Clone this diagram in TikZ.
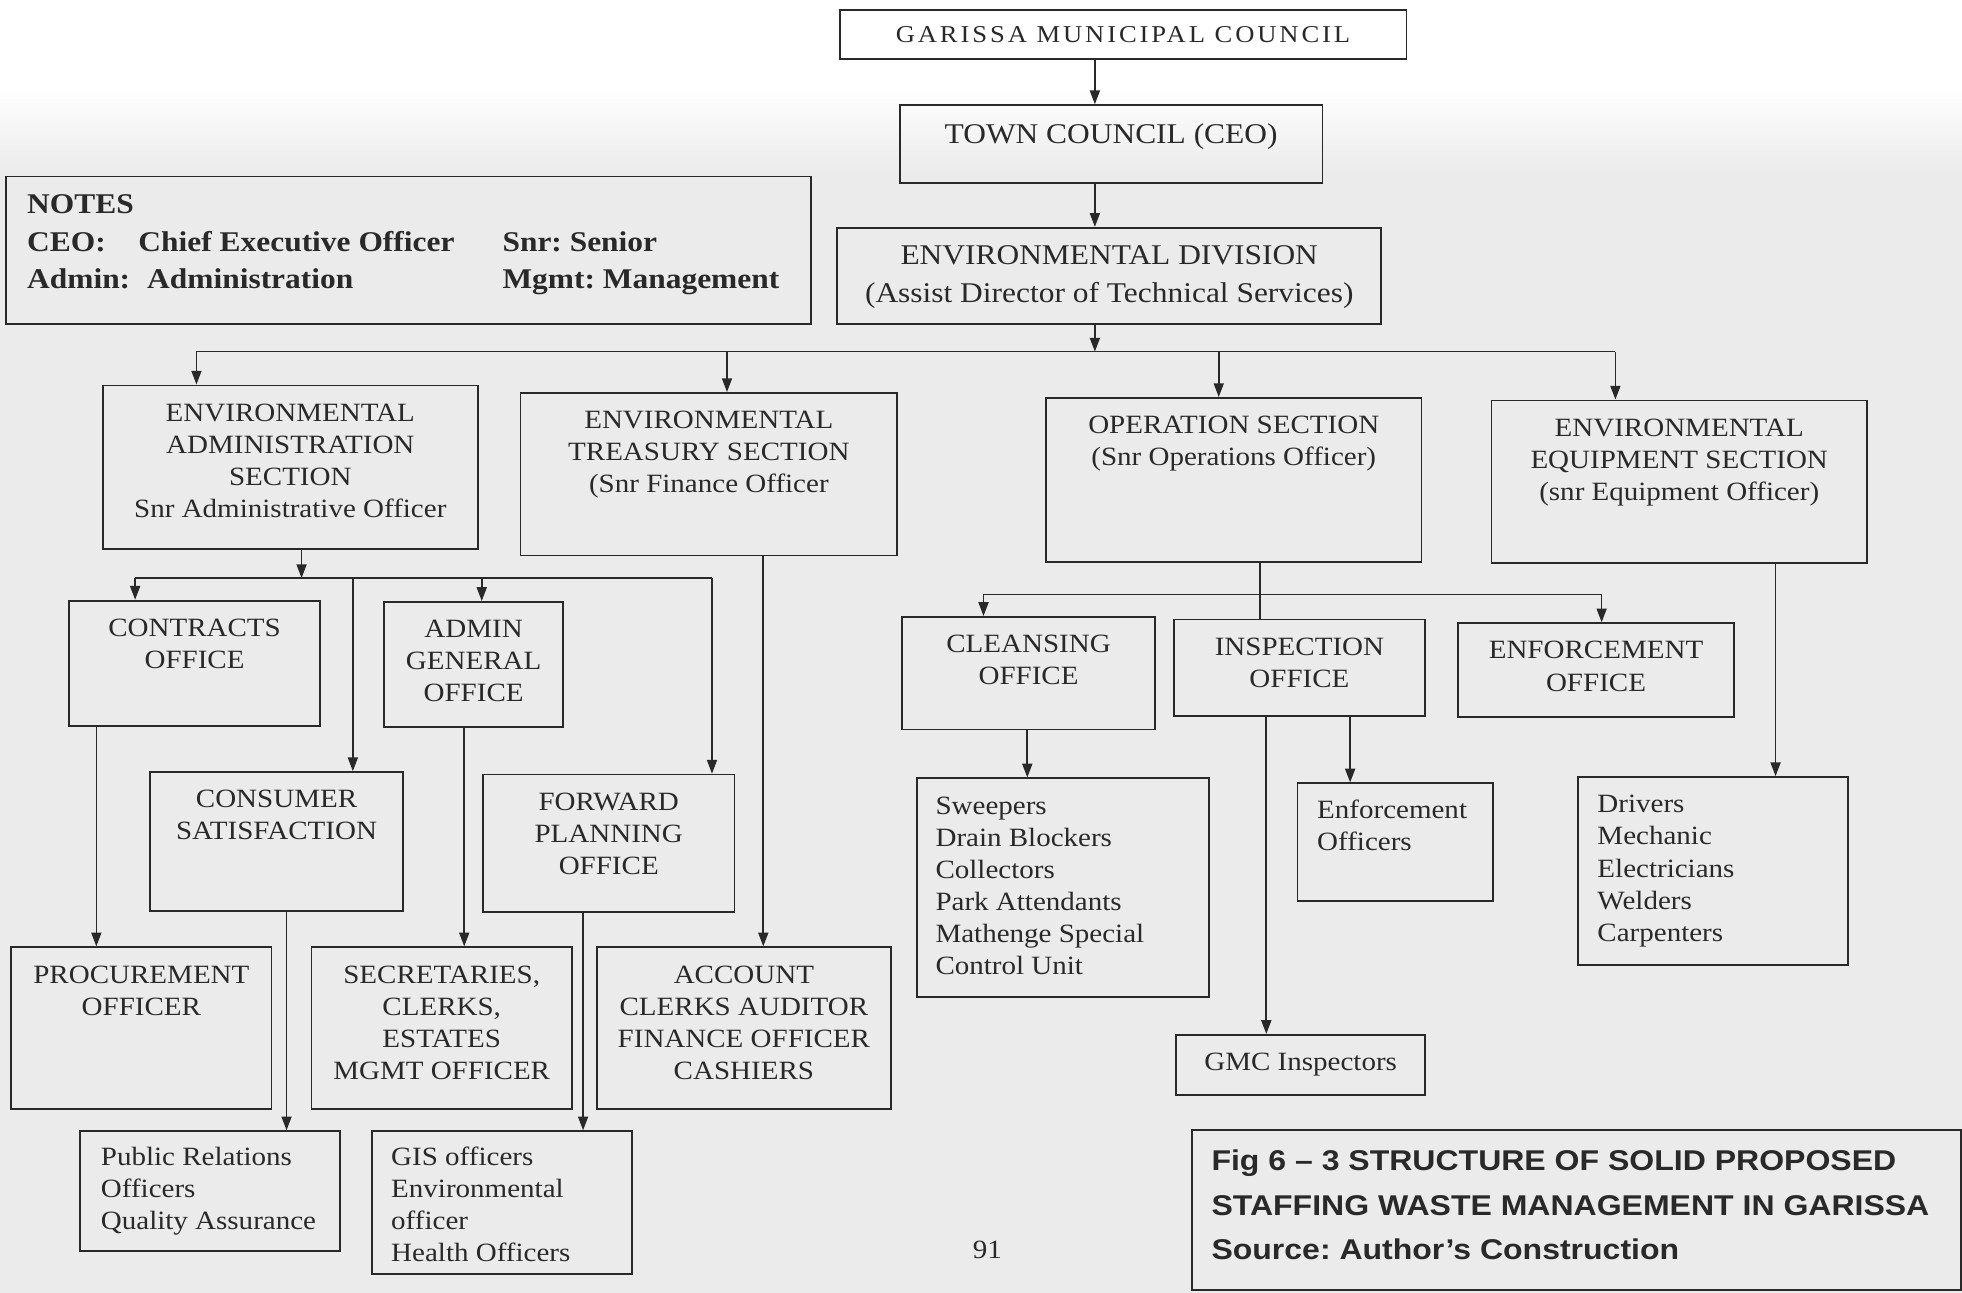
\documentclass[tikz,border=0pt]{standalone}
\usepackage{fontspec}
\setmainfont{Liberation Serif}[FakeStretch=1.1]
\newfontfamily\capfont{Liberation Sans}[FakeStretch=1.12]
\usetikzlibrary{arrows.meta, positioning, calc}
\definecolor{paper}{gray}{0.92}
\definecolor{ink}{gray}{0.16}
\frenchspacing

\begin{document}
\begin{tikzpicture}[x=0.02cm, y=-0.02cm, >={Triangle[length=2.2mm, width=1.6mm]},
    unit/.style={draw=ink, line width=0.8pt, inner sep=0pt, text=ink},
    lbl/.style={anchor=north, align=center, inner sep=0pt, text=ink, font=\fontsize{12}{14.6}\selectfont},
    staff/.style={anchor=north west, align=left, inner sep=0pt, text=ink, font=\fontsize{12}{14.6}\selectfont},
    link/.style={->, draw=ink, line width=0.75pt},
    bus/.style={draw=ink, line width=0.75pt}]
    \useasboundingbox (0,0) rectangle (1568,1033);
    % paper
    \fill[paper] (0,0) rectangle (1568,1033);
    \fill[white] (0,0) rectangle (1568,70);
    \shade[top color=white, bottom color=paper] (0,70) rectangle (1568,140);

    % top chain
    \node[unit, minimum width=9.06cm, minimum height=0.78cm, font=\fontsize{11}{13}\selectfont\addfontfeature{LetterSpace=12}] (gmc) at (897.5,27.5) {GARISSA MUNICIPAL COUNCIL};
    \node[unit, minimum width=6.76cm, minimum height=1.24cm] (tc) at (888,115) {};
    \node[lbl, font=\fontsize{13}{17}\selectfont] (tct) at ([yshift=-0.3cm]tc.north) {TOWN COUNCIL (CEO)};
    \node[unit, minimum width=8.7cm, minimum height=1.54cm] (ed) at (886.5,220.5) {};
    \node[lbl, font=\fontsize{13}{17}\selectfont] (edt) at ([yshift=-0.3cm]ed.north) {ENVIRONMENTAL DIVISION\\(Assist Director of Technical Services)};

    % notes
    \node[unit, minimum width=12.86cm, minimum height=2.36cm] (notes) at (326.5,200) {};
    \node[staff, font=\fontsize{13}{17}\bfseries] (notest) at ([xshift=0.34cm, yshift=-0.3cm]notes.north west)
        {NOTES\\
         \makebox[7.6cm][l]{\makebox[1.78cm][l]{CEO:}Chief Executive Officer}Snr: Senior\\
         \makebox[7.6cm][l]{\makebox[1.92cm][l]{Admin:}Administration}Mgmt: Management};

    % sections
    \node[unit, minimum width=6cm, minimum height=2.62cm] (adm) at (232,373.5) {};
    \node[lbl] (admt) at ([yshift=-0.3cm]adm.north) {ENVIRONMENTAL\\ADMINISTRATION\\SECTION\\Snr Administrative Officer};
    \node[unit, minimum width=6.02cm, minimum height=2.6cm] (tre) at (566.5,379) {};
    \node[lbl] (tret) at ([yshift=-0.3cm]tre.north) {ENVIRONMENTAL\\TREASURY SECTION\\(Snr Finance Officer};
    \node[unit, minimum width=6cm, minimum height=2.62cm] (ops) at (986,383.5) {};
    \node[lbl] (opst) at ([yshift=-0.3cm]ops.north) {OPERATION SECTION\\(Snr Operations Officer)};
    \node[unit, minimum width=6cm, minimum height=2.6cm] (eqp) at (1342,385) {};
    \node[lbl] (eqpt) at ([yshift=-0.3cm]eqp.north) {ENVIRONMENTAL\\EQUIPMENT SECTION\\(snr Equipment Officer)};

    % admin branch
    \node[unit, minimum width=4.02cm, minimum height=2cm] (con) at (155.5,530) {};
    \node[lbl] (cont) at ([yshift=-0.3cm]con.north) {CONTRACTS\\OFFICE};
    \node[unit, minimum width=2.86cm, minimum height=2cm] (agen) at (378.5,531) {};
    \node[lbl] (agent) at ([yshift=-0.3cm]agen.north) {ADMIN\\GENERAL\\OFFICE};
    \node[unit, minimum width=4.04cm, minimum height=2.22cm] (csat) at (221,672.5) {};
    \node[lbl] (csatt) at ([yshift=-0.3cm]csat.north) {CONSUMER\\SATISFACTION};
    \node[unit, minimum width=4.02cm, minimum height=2.2cm] (fwd) at (486.5,674) {};
    \node[lbl] (fwdt) at ([yshift=-0.3cm]fwd.north) {FORWARD\\PLANNING\\OFFICE};
    \node[unit, minimum width=4.16cm, minimum height=2.58cm] (proc) at (113,821.5) {};
    \node[lbl] (proct) at ([yshift=-0.3cm]proc.north) {PROCUREMENT\\OFFICER};
    \node[unit, minimum width=4.16cm, minimum height=2.58cm] (sec) at (353,821.5) {};
    \node[lbl] (sect) at ([yshift=-0.3cm]sec.north) {SECRETARIES,\\CLERKS,\\ESTATES\\MGMT OFFICER};
    \node[unit, minimum width=4.7cm, minimum height=2.58cm] (acc) at (594.5,821.5) {};
    \node[lbl] (acct) at ([yshift=-0.3cm]acc.north) {ACCOUNT\\CLERKS AUDITOR\\FINANCE OFFICER\\CASHIERS};
    \node[unit, minimum width=4.16cm, minimum height=1.92cm] (pr) at (168,952) {};
    \node[staff] (prt) at ([xshift=0.34cm, yshift=-0.26cm]pr.north west) {Public Relations\\Officers\\Quality Assurance};
    \node[unit, minimum width=4.16cm, minimum height=2.28cm] (gis) at (401,961) {};
    \node[staff] (gist) at ([xshift=0.32cm, yshift=-0.26cm]gis.north west) {GIS officers\\Environmental\\officer\\Health Officers};

    % operations branch
    \node[unit, minimum width=4.04cm, minimum height=1.8cm] (cln) at (822,538) {};
    \node[lbl] (clnt) at ([yshift=-0.3cm]cln.north) {CLEANSING\\OFFICE};
    \node[unit, minimum width=4.02cm, minimum height=1.54cm] (insp) at (1038.5,533.5) {};
    \node[lbl] (inspt) at ([yshift=-0.3cm]insp.north) {INSPECTION\\OFFICE};
    \node[unit, minimum width=4.42cm, minimum height=1.5cm] (enf) at (1275.5,535.5) {};
    \node[lbl] (enft) at ([yshift=-0.3cm]enf.north) {ENFORCEMENT\\OFFICE};
    \node[unit, minimum width=4.66cm, minimum height=3.5cm] (swp) at (849.5,709.5) {};
    \node[staff] (swpt) at ([xshift=0.3cm, yshift=-0.3cm]swp.north west) {Sweepers\\Drain Blockers\\Collectors\\Park Attendants\\Mathenge Special\\Control Unit};
    \node[unit, minimum width=3.12cm, minimum height=1.88cm] (enfo) at (1115,673) {};
    \node[staff] (enfot) at ([xshift=0.32cm, yshift=-0.27cm]enfo.north west) {Enforcement\\Officers};
    \node[unit, minimum width=3.98cm, minimum height=0.96cm, font=\fontsize{12}{14.6}\selectfont] (ginsp) at (1039.5,851) {GMC Inspectors};
    \node[unit, minimum width=4.32cm, minimum height=3cm] (drv) at (1369,696) {};
    \node[staff] (drvt) at ([xshift=0.32cm, yshift=-0.3cm]drv.north west) {Drivers\\Mechanic\\Electricians\\Welders\\Carpenters};

    % caption and page number
    \node[unit, minimum width=12.3cm, minimum height=2.56cm] (cap) at (1260,967) {};
    \node[staff, font=\capfont\bfseries\fontsize{13}{20.4}\selectfont] (capt) at ([xshift=0.32cm, yshift=-0.32cm]cap.north west)
        {Fig 6 – 3 STRUCTURE OF SOLID PROPOSED\\STAFFING WASTE MANAGEMENT IN GARISSA\\Source: Author’s Construction};
    \node[text=ink, font=\fontsize{12}{14}\selectfont] (pg) at (789,999) {91};

    % connectors: top chain
    \coordinate (spine) at (875,0);
    \draw[link] (gmc.south -| spine) -- (tc.north -| spine);
    \draw[link] (tc.south -| spine) -- (ed.north -| spine);
    \coordinate (busL) at (157,281);
    \coordinate (busR) at (1291,281);
    \draw[link] (ed.south -| spine) -- (spine |- busL);
    \draw[bus] (busL) -- (busR);
    \foreach \n/\x in {adm/157, tre/581, ops/974, eqp/1291} {
        \coordinate (d\n) at (\x,281);
        \draw[link] (d\n) -- (d\n |- \n.north);
    }

    % connectors: admin bus
    \coordinate (abL) at (108,462);
    \coordinate (abR) at (569,462);
    \coordinate (abIn) at (241,462);
    \draw[link] (abIn |- adm.south) -- (abIn);
    \draw[bus] (abL) -- (abR);
    \foreach \n/\x in {con/108, agen/385, csat/282, fwd/569} {
        \coordinate (d\n) at (\x,462);
        \draw[link] (d\n) -- (d\n |- \n.north);
    }

    % connectors: operations bus
    \coordinate (obL) at (786,475);
    \coordinate (obR) at (1280,475);
    \draw[bus] (ops.south -| 1007,0) -- (insp.north -| 1007,0);
    \draw[bus] (obL) -- (obR);
    \draw[link] (obL) -- (obL |- cln.north);
    \draw[link] (obR) -- (obR |- enf.north);

    % box to box
    \foreach \a/\b/\x in {con/proc/77, agen/sec/371, tre/acc/610, csat/pr/229, fwd/gis/466,
                          cln/swp/821, insp/enfo/1079, insp/ginsp/1012, eqp/drv/1419}
        \draw[link] (\a.south -| \x,0) -- (\b.north -| \x,0);
\end{tikzpicture}
\end{document}
